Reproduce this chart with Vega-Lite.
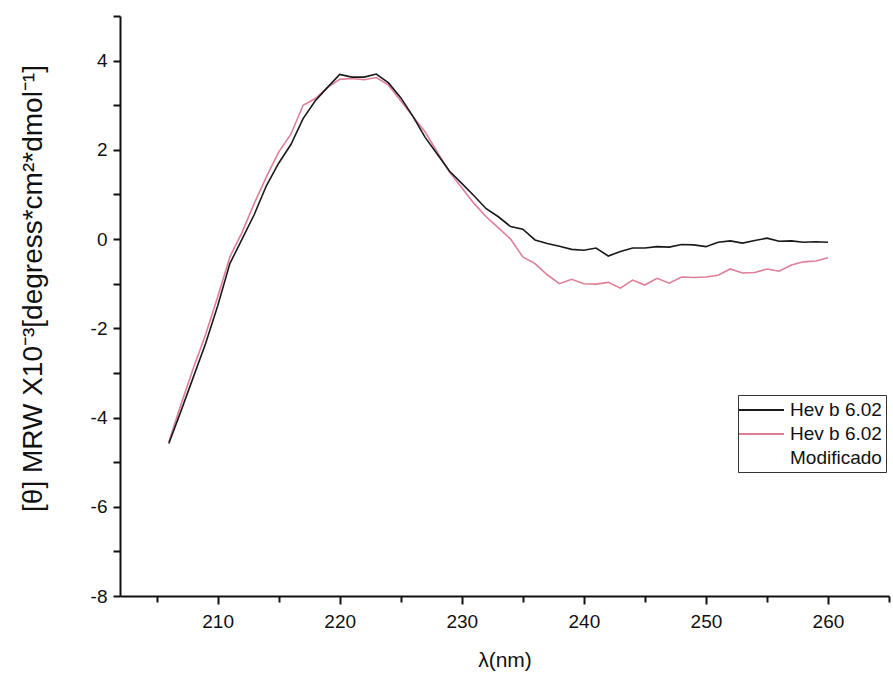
{
  "$schema": "https://vega.github.io/schema/vega-lite/v6.json",
  "autosize": "none",
  "padding": {"left": 120, "top": 16, "right": 4, "bottom": 88},
  "width": 769,
  "height": 580,
  "background": "white",
  "config": {
    "view": {"stroke": null},
    "font": "Liberation Sans"
  },
  "datasets": {
    "black": [
      {"nm":206,"theta":-4.58},{"nm":207,"theta":-3.85},{"nm":208,"theta":-3.1},{"nm":209,"theta":-2.35},{"nm":210,"theta":-1.5},
      {"nm":211,"theta":-0.55},{"nm":212,"theta":0.0},{"nm":213,"theta":0.55},{"nm":214,"theta":1.2},{"nm":215,"theta":1.7},
      {"nm":216,"theta":2.12},{"nm":217,"theta":2.7},{"nm":218,"theta":3.1},{"nm":219,"theta":3.4},{"nm":220,"theta":3.69},
      {"nm":221,"theta":3.63},{"nm":222,"theta":3.63},{"nm":223,"theta":3.7},{"nm":224,"theta":3.5},{"nm":225,"theta":3.17},
      {"nm":226,"theta":2.75},{"nm":227,"theta":2.28},{"nm":228,"theta":1.9},{"nm":229,"theta":1.52},{"nm":230,"theta":1.25},
      {"nm":231,"theta":0.97},{"nm":232,"theta":0.68},{"nm":233,"theta":0.5},{"nm":234,"theta":0.28},{"nm":235,"theta":0.22},
      {"nm":236,"theta":-0.02},{"nm":237,"theta":-0.1},{"nm":238,"theta":-0.16},{"nm":239,"theta":-0.23},{"nm":240,"theta":-0.25},
      {"nm":241,"theta":-0.2},{"nm":242,"theta":-0.38},{"nm":243,"theta":-0.28},{"nm":244,"theta":-0.2},{"nm":245,"theta":-0.2},
      {"nm":246,"theta":-0.17},{"nm":247,"theta":-0.18},{"nm":248,"theta":-0.12},{"nm":249,"theta":-0.13},{"nm":250,"theta":-0.17},
      {"nm":251,"theta":-0.07},{"nm":252,"theta":-0.04},{"nm":253,"theta":-0.09},{"nm":254,"theta":-0.03},{"nm":255,"theta":0.02},
      {"nm":256,"theta":-0.05},{"nm":257,"theta":-0.04},{"nm":258,"theta":-0.07},{"nm":259,"theta":-0.06},{"nm":260,"theta":-0.07}
    ],
    "pink": [
      {"nm":206,"theta":-4.55},{"nm":207,"theta":-3.7},{"nm":208,"theta":-2.9},{"nm":209,"theta":-2.15},{"nm":210,"theta":-1.3},
      {"nm":211,"theta":-0.4},{"nm":212,"theta":0.15},{"nm":213,"theta":0.8},{"nm":214,"theta":1.4},{"nm":215,"theta":1.95},
      {"nm":216,"theta":2.35},{"nm":217,"theta":3.0},{"nm":218,"theta":3.15},{"nm":219,"theta":3.4},{"nm":220,"theta":3.58},
      {"nm":221,"theta":3.6},{"nm":222,"theta":3.57},{"nm":223,"theta":3.62},{"nm":224,"theta":3.45},{"nm":225,"theta":3.1},
      {"nm":226,"theta":2.75},{"nm":227,"theta":2.4},{"nm":228,"theta":1.95},{"nm":229,"theta":1.5},{"nm":230,"theta":1.15},
      {"nm":231,"theta":0.8},{"nm":232,"theta":0.5},{"nm":233,"theta":0.25},{"nm":234,"theta":0.0},{"nm":235,"theta":-0.4},
      {"nm":236,"theta":-0.55},{"nm":237,"theta":-0.8},{"nm":238,"theta":-1.0},{"nm":239,"theta":-0.9},{"nm":240,"theta":-1.0},
      {"nm":241,"theta":-1.01},{"nm":242,"theta":-0.97},{"nm":243,"theta":-1.1},{"nm":244,"theta":-0.92},{"nm":245,"theta":-1.03},
      {"nm":246,"theta":-0.88},{"nm":247,"theta":-0.99},{"nm":248,"theta":-0.85},{"nm":249,"theta":-0.86},{"nm":250,"theta":-0.85},
      {"nm":251,"theta":-0.81},{"nm":252,"theta":-0.67},{"nm":253,"theta":-0.76},{"nm":254,"theta":-0.75},{"nm":255,"theta":-0.67},
      {"nm":256,"theta":-0.72},{"nm":257,"theta":-0.58},{"nm":258,"theta":-0.51},{"nm":259,"theta":-0.49},{"nm":260,"theta":-0.42}
    ]
  },
  "data": {"name": "black"},
  "layer": [
    {
      "data": {"name": "pink"},
      "transform": [{"calculate": "'Hev b 6.02 Modificado'", "as": "serie"}],
      "mark": {"type": "line", "strokeWidth": 1.6, "interpolate": "linear"},
      "encoding": {
        "x": {"field": "nm", "type": "quantitative"},
        "y": {"field": "theta", "type": "quantitative"},
        "color": {"field": "serie", "type": "nominal"}
      }
    },
    {
      "data": {"name": "black"},
      "transform": [{"calculate": "'Hev b 6.02'", "as": "serie"}],
      "mark": {"type": "line", "strokeWidth": 1.6, "interpolate": "linear"},
      "encoding": {
        "x": {
          "field": "nm", "type": "quantitative",
          "scale": {"domain": [202, 265], "nice": false, "zero": false},
          "axis": {
            "title": "λ(nm)",
            "values": [205, 210, 215, 220, 225, 230, 235, 240, 245, 250, 255, 260, 265],
            "labelExpr": "datum.value % 10 === 0 && datum.value <= 260 ? datum.value : ''",
            "grid": false,
            "domainColor": "#111", "domainWidth": 2,
            "tickColor": "#111", "tickWidth": 2,
            "tickSize": {"condition": {"test": "datum.value % 10 === 0", "value": 8}, "value": 6},
            "labelFontSize": 19, "labelColor": "#111", "labelPadding": 8,
            "titleFontSize": 21, "titleFontWeight": "normal", "titleColor": "#111", "titlePadding": 18
          }
        },
        "y": {
          "field": "theta", "type": "quantitative",
          "scale": {"domain": [-8, 5], "nice": false, "zero": false},
          "axis": {
            "title": "[θ] MRW X10⁻³[degress*cm²*dmol⁻¹]",
            "values": [-8, -7, -6, -5, -4, -3, -2, -1, 0, 1, 2, 3, 4, 5],
            "labelExpr": "datum.value % 2 === 0 && datum.value <= 4 ? datum.value : ''",
            "grid": false,
            "domainColor": "#111", "domainWidth": 2,
            "tickColor": "#111", "tickWidth": 2,
            "tickSize": 7,
            "labelFontSize": 19, "labelColor": "#111", "labelPadding": 6,
            "titleFontSize": 28, "titleFontWeight": "normal", "titleColor": "#111",
            "titleX": -87, "titleY": 272, "titleAngle": -90, "titleAlign": "center", "titleBaseline": "middle"
          }
        },
        "color": {
          "field": "serie", "type": "nominal",
          "scale": {
            "domain": ["Hev b 6.02", "Hev b 6.02 Modificado", "Modificado"],
            "range": ["#1a1a1a", "#de7e97", "#ffffff"]
          },
          "legend": {
            "title": null,
            "orient": "none",
            "legendX": 618,
            "legendY": 379,
            "symbolType": "M-1.4,0H3.1",
            "symbolSize": 400,
            "symbolStrokeWidth": 2,
            "labelFontSize": 19,
            "labelColor": "#111",
            "labelOffset": 26,
            "rowPadding": 3,
            "padding": 4,
            "strokeColor": "#333",
            "fillColor": "white",
            "labelExpr": "datum.label == 'Hev b 6.02 Modificado' ? 'Hev b 6.02' : datum.label"
          }
        }
      }
    }
  ]
}
